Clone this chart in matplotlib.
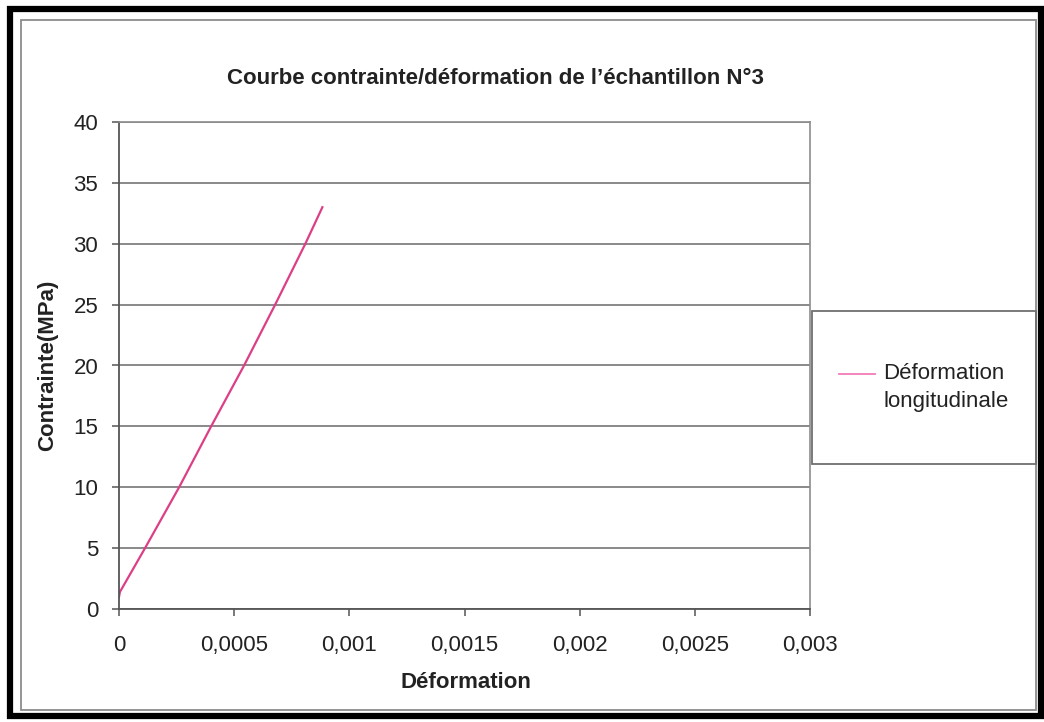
import matplotlib
matplotlib.use('Agg')
import matplotlib.pyplot as plt
from matplotlib.patches import Rectangle
from matplotlib.ticker import FuncFormatter, MultipleLocator

# values
deformation = [0.0, 0.000004, 0.000113, 0.000261, 0.0004, 0.000543, 0.000678, 0.000809, 0.000883]
contrainte = [1.0, 1.4, 5.0, 10.0, 15.0, 20.0, 25.0, 30.0, 33.0]
titre = "Courbe contrainte/déformation de l\u2019échantillon N°3"
xlabel = "Déformation"
ylabel = "Contrainte(MPa)"
legende = "Déformation\nlongitudinale"

W, H = 1044, 722
plt.rcParams['font.family'] = ['Liberation Sans', 'DejaVu Sans']
txt = '#222222'

fig = plt.figure(figsize=(W / 100, H / 100), dpi=100)
fig.patch.set_facecolor('white')

def fx(px):
    return px / W

def fy(py):
    return 1 - py / H

# scanned chart frames
fig.add_artist(Rectangle((fx(10), fy(716)), fx(1041) - fx(10), fy(9) - fy(716),
                         transform=fig.transFigure, fill=False, edgecolor='black', lw=4.5))
fig.add_artist(Rectangle((fx(21), fy(710)), fx(1036) - fx(21), fy(20) - fy(710),
                         transform=fig.transFigure, fill=False, edgecolor='#8c8c8c', lw=1.3))

ax = fig.add_axes([fx(119), fy(609), fx(810) - fx(119), fy(122) - fy(609)])
ax.plot(deformation, contrainte, color='#dc3f86', lw=1.6, label=legende)

ax.set_xlim(0, 0.003)
ax.set_ylim(0, 40)
ax.xaxis.set_major_locator(MultipleLocator(0.0005))
ax.yaxis.set_major_locator(MultipleLocator(5))

def virgule(v, pos):
    if abs(v) < 1e-12:
        return '0'
    s = ('%.4f' % v).rstrip('0')
    return s.replace('.', ',')

ax.xaxis.set_major_formatter(FuncFormatter(virgule))
ax.yaxis.set_major_formatter(FuncFormatter(lambda v, p: '%d' % v))
ax.grid(axis='y', color='#808080', lw=1.3)
ax.set_axisbelow(True)
for s in ['top', 'right']:
    ax.spines[s].set_color('#8c8c8c')
    ax.spines[s].set_linewidth(1.2)
for s in ['left', 'bottom']:
    ax.spines[s].set_color('#555555')
    ax.spines[s].set_linewidth(1.3)
ax.tick_params(axis='both', direction='out', length=5, width=1.1, color='#555555',
               labelsize=16, labelcolor=txt)
ax.tick_params(axis='x', pad=14)
ax.tick_params(axis='y', pad=10)

fig.text(fx(495), fy(79), titre, ha='center', va='center', fontsize=16,
         fontweight='bold', color=txt)
fig.text(fx(466), fy(682), xlabel, ha='center', va='center', fontsize=16,
         fontweight='bold', color=txt)
fig.text(fx(48), fy(365), ylabel, ha='center', va='center', rotation=90,
         fontsize=16, fontweight='bold', color=txt)

# legend box
lx0, ly0, lx1, ly1 = fx(812), fy(464), fx(1036), fy(311)
fig.add_artist(Rectangle((lx0, ly0), lx1 - lx0, ly1 - ly0, transform=fig.transFigure,
                         fill=False, edgecolor='#707070', lw=1.3))
leg = ax.legend(loc='center', bbox_to_anchor=(lx0, ly0, lx1 - lx0, ly1 - ly0),
                bbox_transform=fig.transFigure, frameon=False, fontsize=16,
                handlelength=1.6, handletextpad=0.4, labelcolor=txt)
for t in leg.get_texts():
    t.set_linespacing(1.45)
for h in leg.legend_handles:
    h.set_color('#f07cb8')
    h.set_linewidth(1.3)
    h.set_ydata([v + 10 for v in h.get_ydata()])

fig.savefig('out.png', dpi=100)
